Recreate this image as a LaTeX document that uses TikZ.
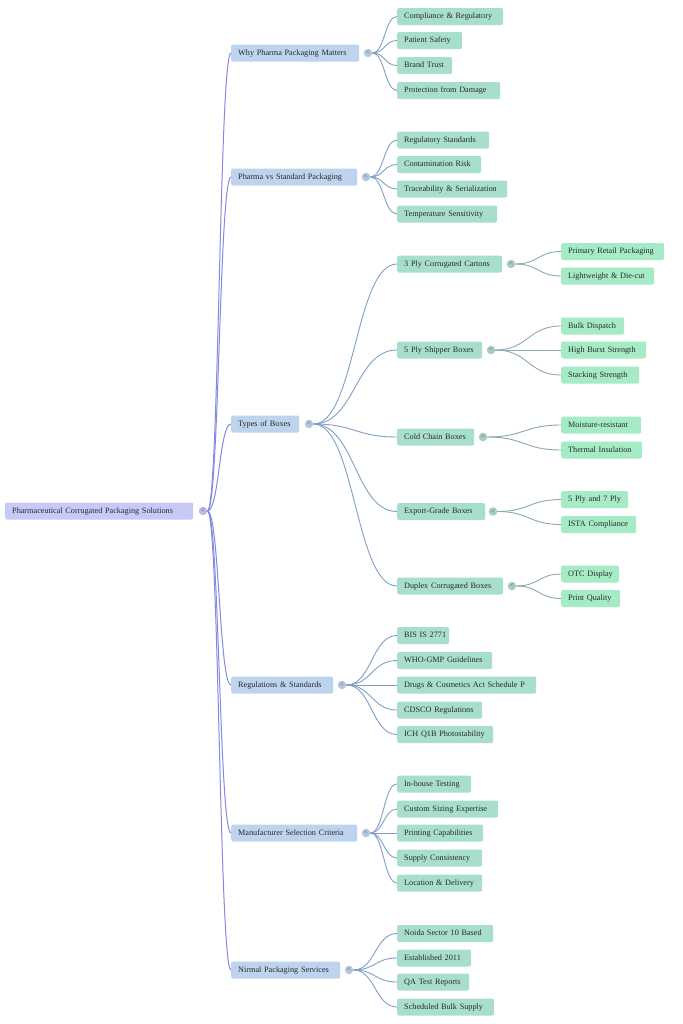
\documentclass[tikz,border=0pt]{standalone}
\usepackage{fontspec}
\setmainfont{Liberation Serif}
\usetikzlibrary{calc}
\definecolor{rootfill}{HTML}{C7C9F7}
\definecolor{lafill}{HTML}{BDD3EE}
\definecolor{lbfill}{HTML}{A8DFCB}
\definecolor{lcfill}{HTML}{A5EBC5}
\definecolor{rootline}{HTML}{8589E0}
\definecolor{laline}{HTML}{809FC8}
\definecolor{lbline}{HTML}{8BAAB0}
\definecolor{rootcirc}{HTML}{B8BBEA}
\definecolor{lacirc}{HTML}{B3C8DE}
\definecolor{lbcirc}{HTML}{A6CCC4}
\definecolor{txt}{HTML}{2A2A2A}
\tikzset{
  box/.style={rounded corners=2bp, draw=none, inner xsep=7bp, inner ysep=0pt,
    minimum height=17bp, align=left, anchor=west, text=txt,
    text height=5.8bp, text depth=1.8bp,
    font=\fontsize{8.2bp}{9.6bp}\selectfont},
  rootbox/.style={box, fill=rootfill},
  labox/.style={box, fill=lafill},
  lbbox/.style={box, fill=lbfill},
  lcbox/.style={box, fill=lcfill},
  knob/.style={circle, inner sep=0pt, minimum size=8.5bp, text=txt!80,
    font=\fontsize{6.5bp}{6.5bp}\selectfont},
  rootknob/.style={knob, fill=rootcirc},
  laknob/.style={knob, fill=lacirc},
  lbknob/.style={knob, fill=lbcirc},
  rootlink/.style={draw=rootline, line width=1bp},
  lalink/.style={draw=laline, line width=0.9bp},
  lblink/.style={draw=lbline, line width=0.9bp},
}
% name, style, left, right, y, text
\newcommand\bx[6]{%
  \pgfmathsetmacro\tw{#4-#3-14}%
  \node[#2, text width=\tw bp] (#1) at (#3,#5) {\mbox{#6}};}
% name, style, x, y
\newcommand\kn[4]{\node[#2] (#1) at (#3,#4) {\raisebox{0.3bp}{<}};}
% style, from, to
\newcommand\lnk[3]{\draw[#1] let \p1=(#2.east), \p2=(#3.west) in
  (\p1) .. controls ({(\x1+\x2)/2},\y1) and ({(\x1+\x2)/2},\y2) .. (\p2);}
\begin{document}
\begin{tikzpicture}[x=1bp,y=-1bp]
\useasboundingbox[fill=white] (0,0) rectangle (683,1024);
% root
\bx{r}{rootbox}{5}{193}{511}{Pharmaceutical Corrugated Packaging Solutions}
\kn{rk}{rootknob}{203}{511}
% level 1
\bx{a}{labox}{231}{359}{53}{Why Pharma Packaging Matters}
\bx{b}{labox}{231}{357}{177}{Pharma vs Standard Packaging}
\bx{c}{labox}{231}{299}{424}{Types of Boxes}
\bx{d}{labox}{231}{333}{685}{Regulations \& Standards}
\bx{e}{labox}{231}{357}{833}{Manufacturer Selection Criteria}
\bx{f}{labox}{231}{340}{970}{Nirmal Packaging Services}
\kn{ak}{laknob}{368}{53}
\kn{bk}{laknob}{366}{177}
\kn{ck}{laknob}{309}{424}
\kn{dk}{laknob}{342}{685}
\kn{ek}{laknob}{366}{833}
\kn{fk}{laknob}{349}{970}
\foreach \q in {a,b,c,d,e,f} {\lnk{rootlink}{rk}{\q}}
% level 2: why
\bx{a1}{lbbox}{397}{503}{16.5}{Compliance \& Regulatory}
\bx{a2}{lbbox}{397}{462}{40.5}{Patient Safety}
\bx{a3}{lbbox}{397}{452}{65.5}{Brand Trust}
\bx{a4}{lbbox}{397}{500}{90.5}{Protection from Damage}
\foreach \q in {a1,a2,a3,a4} {\lnk{lalink}{ak}{\q}}
% pharma vs standard
\bx{b1}{lbbox}{397}{489}{140}{Regulatory Standards}
\bx{b2}{lbbox}{397}{481}{164.5}{Contamination Risk}
\bx{b3}{lbbox}{397}{507}{189}{Traceability \& Serialization}
\bx{b4}{lbbox}{397}{497}{214}{Temperature Sensitivity}
\foreach \q in {b1,b2,b3,b4} {\lnk{lalink}{bk}{\q}}
% types of boxes
\bx{c1}{lbbox}{397}{502}{264}{3 Ply Corrugated Cartons}
\bx{c2}{lbbox}{397}{482}{350}{5 Ply Shipper Boxes}
\bx{c3}{lbbox}{397}{474}{437}{Cold Chain Boxes}
\bx{c4}{lbbox}{397}{485}{511.5}{Export-Grade Boxes}
\bx{c5}{lbbox}{397}{503}{586}{Duplex Corrugated Boxes}
\foreach \q in {c1,c2,c3,c4,c5} {\lnk{lalink}{ck}{\q}}
\kn{c1k}{lbknob}{511}{264}
\kn{c2k}{lbknob}{491}{350}
\kn{c3k}{lbknob}{483}{437}
\kn{c4k}{lbknob}{493}{511.5}
\kn{c5k}{lbknob}{512}{586}
% level 3
\bx{c11}{lcbox}{561}{664}{251.5}{Primary Retail Packaging}
\bx{c12}{lcbox}{561}{654}{276}{Lightweight \& Die-cut}
\bx{c21}{lcbox}{561}{624}{326}{Bulk Dispatch}
\bx{c22}{lcbox}{561}{646}{350}{High Burst Strength}
\bx{c23}{lcbox}{561}{639}{375}{Stacking Strength}
\bx{c31}{lcbox}{561}{641}{425}{Moisture-resistant}
\bx{c32}{lcbox}{561}{642}{450}{Thermal Insulation}
\bx{c41}{lcbox}{561}{628}{499.5}{5 Ply and 7 Ply}
\bx{c42}{lcbox}{561}{636}{524.5}{ISTA Compliance}
\bx{c51}{lcbox}{561}{619}{574}{OTC Display}
\bx{c52}{lcbox}{561}{620}{598.5}{Print Quality}
\foreach \q in {c11,c12} {\lnk{lblink}{c1k}{\q}}
\foreach \q in {c21,c22,c23} {\lnk{lblink}{c2k}{\q}}
\foreach \q in {c31,c32} {\lnk{lblink}{c3k}{\q}}
\foreach \q in {c41,c42} {\lnk{lblink}{c4k}{\q}}
\foreach \q in {c51,c52} {\lnk{lblink}{c5k}{\q}}
% regulations
\bx{d1}{lbbox}{397}{449}{635.5}{BIS IS 2771}
\bx{d2}{lbbox}{397}{492}{660.5}{WHO-GMP Guidelines}
\bx{d3}{lbbox}{397}{536}{685}{Drugs \& Cosmetics Act Schedule P}
\bx{d4}{lbbox}{397}{482}{710}{CDSCO Regulations}
\bx{d5}{lbbox}{397}{493}{734.5}{ICH Q1B Photostability}
\foreach \q in {d1,d2,d3,d4,d5} {\lnk{lalink}{dk}{\q}}
% manufacturer
\bx{e1}{lbbox}{397}{471}{784}{In-house Testing}
\bx{e2}{lbbox}{397}{498}{809}{Custom Sizing Expertise}
\bx{e3}{lbbox}{397}{483}{833}{Printing Capabilities}
\bx{e4}{lbbox}{397}{482}{858}{Supply Consistency}
\bx{e5}{lbbox}{397}{482}{883}{Location \& Delivery}
\foreach \q in {e1,e2,e3,e4,e5} {\lnk{lalink}{ek}{\q}}
% nirmal
\bx{f1}{lbbox}{397}{493}{933.5}{Noida Sector 10 Based}
\bx{f2}{lbbox}{397}{471}{958}{Established 2011}
\bx{f3}{lbbox}{397}{469}{982}{QA Test Reports}
\bx{f4}{lbbox}{397}{494}{1007}{Scheduled Bulk Supply}
\foreach \q in {f1,f2,f3,f4} {\lnk{lalink}{fk}{\q}}
\end{tikzpicture}
\end{document}
